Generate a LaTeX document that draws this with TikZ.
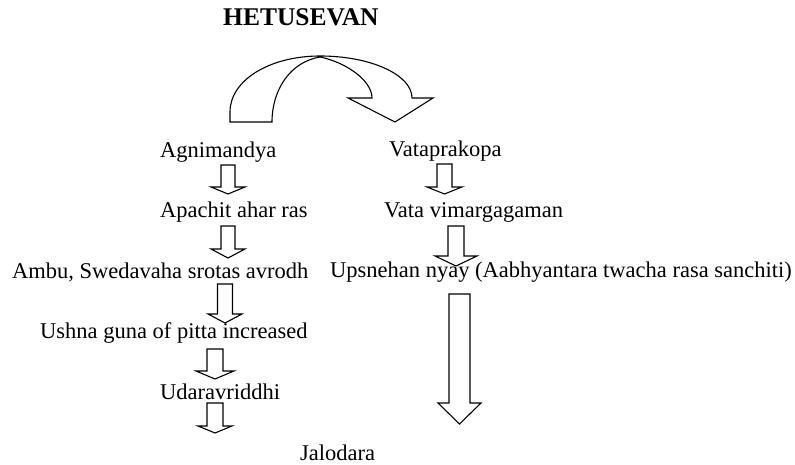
\documentclass[tikz,border=0pt]{standalone}
\usepackage{fontspec}
\setmainfont{Liberation Serif}
\newcommand\blockdown[6]{% cx, half shaft, half wing, top, wing y, tip y
  \draw[blockarrow] (#1-#2,#4) -- (#1+#2,#4) -- (#1+#2,#5) -- (#1+#3,#5) -- (#1,#6) -- (#1-#3,#5) -- (#1-#2,#5) -- cycle;}
\begin{document}
\begin{tikzpicture}[x=1pt,y=-1pt,
  lbl/.style={anchor=base west,inner sep=0pt,font=\fontsize{22.5}{27}\selectfont},
  blockarrow/.style={draw=black,fill=white,line width=1.1pt,line join=miter}]
\useasboundingbox (0,0) rectangle (795,465);
\fill[white] (0,0) rectangle (795,465);
% title
\node[anchor=base west,inner sep=0pt,font=\bfseries\fontsize{25.5}{30}\selectfont] (title) at (223,26) {HETUSEVAN};
% curved arrow
\draw[blockarrow] (230,122) -- (230,112) .. controls (230,80) and (270,56) .. (320,56)
  .. controls (370.8,56) and (412,74.8) .. (412,98) -- (433,98) -- (395,122) -- (348,98) -- (372,98)
  .. controls (372,80) and (345,62) .. (320,57)
  .. controls (290,62) and (272,90) .. (272,122) -- cycle;
% left column
\node[lbl] (agni) at (160,158) {Agnimandya};
\node[lbl] (apachit) at (160,218) {Apachit ahar ras};
\node[lbl] (ambu) at (12,278) {Ambu, Swedavaha srotas avrodh};
\node[lbl] (ushna) at (40,338) {Ushna guna of pitta increased};
\node[lbl] (udara) at (160,399) {Udaravriddhi};
\node[lbl] (jalo) at (300,460) {Jalodara};
% right column
\node[lbl] (vata) at (389,157) {Vataprakopa};
\node[lbl] (vimarga) at (384,218) {Vata vimargagaman};
\node[lbl] (upsneh) at (330,277) {Upsnehan nyay (Aabhyantara twacha rasa sanchiti)};
% block arrows
\blockdown{228}{7}{17}{165}{187}{194}
\blockdown{228}{7}{17}{226}{249}{258}
\blockdown{225}{7.5}{17}{284}{314}{323}
\blockdown{215}{8}{19}{349}{371}{379}
\blockdown{215}{8}{17}{403}{426}{433}
\blockdown{444.5}{7.5}{17.5}{164}{187}{194}
\blockdown{456}{8}{21}{226}{256}{266}
\blockdown{459.5}{10.5}{21.5}{294}{403}{424}
\end{tikzpicture}
\end{document}
